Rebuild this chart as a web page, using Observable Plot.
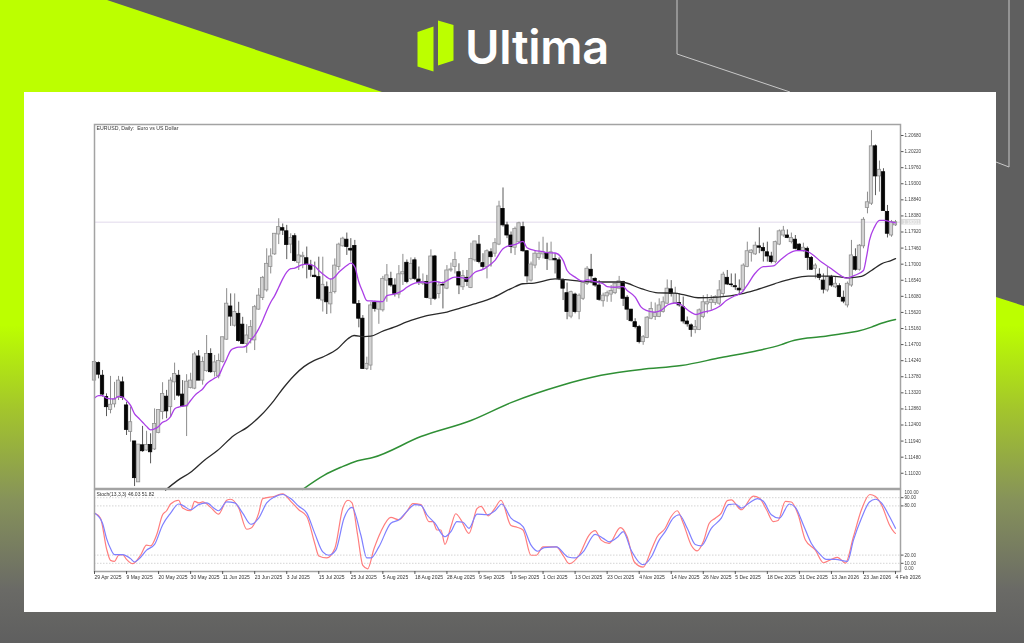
<!DOCTYPE html>
<html>
<head>
<meta charset="utf-8">
<script src="https://cdn.jsdelivr.net/npm/d3@7"></script>
<script src="https://cdn.jsdelivr.net/npm/@observablehq/plot@0.6"></script>
<style>
html,body{margin:0;padding:0;width:1024px;height:643px;overflow:hidden;background:#5f5f5f}
#stage{position:relative;width:1024px;height:643px;overflow:hidden;background:#5f5f5f}
.lay{position:absolute}
#fade{left:0;top:0;width:1024px;height:643px;background:linear-gradient(180deg,#bcff00 0,#bcff00 325px,#a3c52c 410px,#86925a 500px,#6a6a66 590px,#5f5f5f 643px);clip-path:polygon(0 0,107px 0,382px 92px,996px 297px,1024px 306px,1024px 643px,0 643px)}
#panel{left:24px;top:92px;width:972px;height:520px;background:#fff}
#brand{left:465px;top:17px;font:600 47px/60px Inter,"Open Sans",sans-serif;color:#fff;letter-spacing:-.3px}
#price,#osc{left:24px;filter:blur(.3px)}#price{top:92px}#osc{top:488px}
svg{overflow:visible;display:block}
</style>
</head>
<body>
<div id="stage">
<div class="lay" id="fade"></div>
<svg class="lay" style="left:0;top:0" width="1024" height="643">
<polyline points="677,0 677,54 790,92" fill="none" stroke="#c8c8c8" stroke-width="1"/>
<polyline points="1009,0 1009,167 996,162" fill="none" stroke="#c8c8c8" stroke-width="1"/>
<polygon points="417.5,32 433.5,26.5 433.5,71.5 417.5,66.5" fill="#bcff00"/>
<polygon points="438,20.5 453.5,25 453.5,60.5 438,65.5" fill="#bcff00"/>
</svg>
<div class="lay" id="brand">Ultima</div>
<div class="lay" id="panel"></div>
<div class="lay" id="price"></div>
<div class="lay" id="osc"></div>
</div>
<script>
// Daily EURUSD candles, pips above 1.1000, one entry per bar
const open=[367,417,381,320,283,299,318,362,296,220,193,76,182,167,183,170,217,277,321,291,362,381,327,293,346,344,436,367,394,443,392,379,420,484,579,524,558,527,472,486,482,570,603,625,692,728,785,803,794,756,780,704,720,717,696,667,663,596,634,585,620,692,751,770,744,752,586,544,400,410,589,570,568,653,658,639,613,671,704,658,711,656,644,649,601,722,615,641,630,682,692,677,634,661,632,711,756,703,692,734,730,756,858,811,782,747,763,806,737,653,696,718,728,730,711,715,711,653,617,550,613,563,601,644,684,658,639,594,608,613,617,630,649,604,570,534,520,477,489,544,549,549,563,587,628,589,589,577,536,525,512,512,549,585,589,589,587,615,661,642,637,630,625,692,732,728,751,746,734,722,706,756,782,782,763,770,756,737,744,718,687,670,653,625,663,634,637,604,582,639,720,684,751,861,873,1037,951,963,849,782,811];
const close=[420,384,327,291,298,313,367,318,226,248,88,184,165,183,162,243,283,329,279,367,386,324,293,364,367,442,367,420,443,391,419,423,491,587,550,563,480,472,496,520,577,610,661,701,722,787,806,796,755,775,709,725,724,699,684,663,601,641,591,618,696,756,773,749,739,587,544,400,415,582,572,591,658,668,639,615,671,677,649,701,658,648,649,603,722,601,639,639,682,685,712,639,666,649,715,765,706,692,737,720,760,865,811,782,749,801,817,737,665,699,730,730,734,715,734,711,658,630,563,620,563,610,646,687,665,639,598,610,617,623,644,651,601,570,537,520,477,491,547,572,560,582,591,630,615,615,582,536,528,512,520,568,591,591,598,606,625,670,642,640,634,625,696,737,739,753,747,737,722,706,763,794,796,775,775,744,739,747,718,684,696,661,627,663,639,644,606,593,644,725,684,753,827,877,1037,951,970,852,787,820,820];
const high=[422,420,396,329,379,362,379,377,305,291,193,184,236,222,215,286,283,361,339,375,417,396,367,384,388,448,453,434,496,458,439,443,491,630,615,615,591,548,527,539,582,630,665,744,744,787,830,815,811,787,787,766,734,749,711,706,720,720,649,658,715,760,777,789,773,768,596,553,434,591,594,591,665,699,677,658,696,728,712,718,718,692,672,668,741,725,649,649,696,703,734,701,682,682,760,765,782,730,741,744,773,880,918,820,792,806,820,820,739,706,739,763,777,760,763,730,718,658,646,623,617,615,649,693,728,661,653,617,623,639,644,665,651,610,570,544,525,496,550,591,589,601,606,655,653,634,615,606,549,529,539,572,610,613,610,610,653,677,682,672,672,655,701,763,741,763,804,760,763,734,766,798,808,798,789,782,758,760,749,722,701,687,672,692,668,663,644,623,649,768,744,756,833,906,1082,1041,995,973,868,825,825];
const low=[360,372,320,264,272,289,310,310,210,191,64,76,162,165,129,167,215,255,258,262,310,320,291,207,343,341,367,354,391,388,377,372,417,482,522,520,477,470,445,472,453,568,596,620,672,725,756,782,713,730,706,682,687,658,663,661,598,563,556,558,615,682,749,725,706,587,518,400,396,396,563,528,563,591,634,606,601,639,644,653,653,639,639,601,582,596,601,572,627,677,672,613,625,636,630,706,701,684,658,692,720,753,806,773,730,725,758,734,646,649,687,711,715,682,711,672,653,596,541,544,558,541,596,639,644,634,594,577,591,591,613,627,579,539,534,515,472,468,487,541,539,547,560,585,606,585,577,529,520,491,501,510,544,558,568,582,582,606,639,634,625,610,620,690,706,725,730,706,706,701,701,753,777,773,758,741,737,734,682,682,658,653,615,620,634,630,604,587,575,634,680,680,744,844,868,896,906,852,775,777,808];
// Moving averages: bar number and pips above 1.1000
const fastBars=[0,1,2,3,4,5,6,7,8,9,10,11,12,13,14,15,16,17,18,19,20,21,22,23,24,25,26,27,28,29,30,31,32,33,34,35,36,37,38,39,40,41,42,43,44,45,46,47,48,49,50,52,53,55,56,57,58,59,60,61,62,63,64,65,66,67,68,69,70,72,73,75,77,78,80,82,83,85,87,88,90,92,93,95,97,98,100,102,103,105,107,108,110,112,113,115,117,118,120,122,123,125,127,128,130,132,133,135,136.5,137.75,139.8,141.5,143.2,145,146.5,148.2,150.25,152,154,156,157.75,159.8,161.5,163.2,164.8,167,169.5,171.25,173.25,175.25,177.25,179,181.5,184,185.75,187.75,189.8,192,192.75,193.5,194.75,196,197.25,198.5,200];
const fastMA=[317,324,324,317,315,315,322,320,310,296,272,260,248,236,226,229,236,248,253,264,286,291,294,296,310,324,334,343,358,367,374,381,405,429,453,460,463,463,467,482,496,515,539,567,591,610,634,658,677,687,689,699,700,694,682,672,663,657,663,677,687,696,703,692,649,620,596,595,594,593,610,615,625,634,646,649,646,651,647,653,663,661,658,677,685,692,711,744,751,756,765,747,739,736,733,732,711,682,663,651,655,650,644,636,634,636,625,606,577,568,563,568,584,589,584,568,556,563,568,579,596,609,618,644,672,693,695,712,730,739,739,730,706,687,672,660,668,682,720,768,806,825,825,822,818];
const midBars=[17.75,20.7,24,27.3,30.7,34.8,38.2,41.5,44.8,47.3,49.8,52.3,54.8,57.3,60.7,63.2,64.8,67.3,69,71.5,74.8,79,83,88,91.5,95.7,99.8,104,107,109.8,115,117.5,121.5,126.5,131.5,136.5,140.7,144.8,147.3,150.7,155.7,161.5,164.8,169.8,174,178.2,184,188.2,191.5,194,196.5,199,200];
const midMA=[54,81,105,138,167,210,234,267,310,348,381,407,424,436,458,486,496,493,494,506,520,539,553,563,575,589,606,630,644,646,658,656,651,649,649,630,618,617,612,604,606,615,625,644,658,666,666,661,665,682,701,711,716];
const slowBars=[52,57.3,61.5,65.7,69.5,81.5,94,104,116.5,126.5,136.5,146.5,156.5,165.7,171.5,174,178,182,186.5,190.5,194,196.5,200];
const slowMA=[56,96,119,138,147,207,253,304,353,382,399,410,433,453,470,480,489,493,501,508,520,531,542];
// Stochastic oscillator
const mainBars=[0,2,3,4,5,7,9,10,11,13,15,17,19,21,22,24,26,28,30,31,33,35,37,39,41,43,45,47,49,51,53,55,57,58.5,60.25,62.3,64.3,66.5,68,69,71,74,76,78,80,81.5,83,85,87.5,89,90.5,92,93.5,95.5,98,100,101.7,104,107,109,110.7,112.3,115.3,118.2,120,122,125,127,128.5,130.7,132,134,137,139,141,142.5,144.5,146,148,150,151.5,154,156.5,158.3,160,161.5,163.5,165.5,167,169,171,173.5,175,177,179,181,182.7,185,188,189.5,191.5,193.5,195,196.5,198.5,200];
const mainK=[71.2,58.9,40.4,28,20.6,20.6,15.7,11.6,14.8,26,33,56.8,71.2,82.3,80.7,75.3,81.5,83.6,76.6,74.1,84.8,83.6,71.2,57.6,65,83.6,91,93.9,88.9,79.5,71.2,46.5,23.9,19.8,26,65,78.2,44.5,16.5,16.5,30,58.9,63,73.3,81.5,80.7,69.2,58.9,42.4,48.6,60.9,60.1,52.7,70,69.2,74.1,82.3,65,54.8,32.1,24.7,29.2,30,17.7,16.5,23.9,45.3,40.4,36.2,42.4,48.6,26,8.3,17.7,38.3,48.6,65,69.2,52.7,33,31.3,52.7,65,81.5,82.3,77.4,83.6,88.9,85.6,69.2,65,82.3,78.2,56.8,34.2,21.8,14.8,14.8,12.4,38.3,65,84.8,88.1,83.6,67.1,52.7];
const signalBars=[0,1.5,3,4,5,6,7,8,9.5,11.5,13,14,15.5,17,18,19,21,22,24,25,26,27,29,31,33,34,36,38,39,41,42,45,47,49,51,53,55,56,58,60,62,63.3,64.3,65.7,67,68.2,69.8,71.5,74,76,78,79.5,81.5,83.5,84.5,85.5,86.5,87.5,89,90.2,91.5,93.5,95.5,96.5,98.3,100,101.5,104,105.5,107,109,110.3,112,115.3,117,118.5,121,123.5,125,126.5,128.5,131.3,133,134.8,137,139,140.5,142.5,144,145.5,147,149,150.5,152,153.5,155,156.5,158,159,161.5,164.5,166,167.8,169.5,170.7,172.5,174,175.7,177.5,180,182,184,185.5,187.5,189.5,191.5,193.6,194.9,196.5,198.5,199.7,200];
const signalD=[71.2,65,28,13.6,12.4,19.8,20.6,14.8,9.5,19.8,32.1,31.3,44.5,69.2,74.1,82.3,86.9,77.4,74.1,85.6,83.6,84.8,78.2,70,86.9,88.1,77.4,51.5,52.7,71.2,88.9,91.8,94.7,85.6,75.3,67.1,34.2,19,16.5,28,77.4,86.9,83.6,44.5,7.4,3.3,28,48.6,65.9,63,73.3,82.7,81.5,60.9,60.9,50.6,50.6,33,54.8,70.4,63,46.5,76.6,79.5,67.9,77.4,86.9,56,53.9,50.6,19.8,19.8,30,30,19.8,9.5,19.8,44.5,49.8,38.3,34.2,53.5,42.4,11.6,5.4,26,42.4,52.7,67.1,74.1,58.9,32.1,25.1,36.2,58.9,65,71.2,86.4,87.3,75.3,91.8,89.7,75.3,60.9,62.2,85.6,84.8,69.2,38.3,26,10.7,14.8,17.3,10.3,42.4,75.3,93.9,91.8,81.5,56.8,47.8,46.5];
// Axis values and labels
const priceTicks=[1.2068,1.2022,1.1976,1.193,1.1884,1.1838,1.1792,1.1746,1.17,1.1654,1.1608,1.1562,1.1516,1.147,1.1424,1.1378,1.1332,1.1286,1.124,1.1194,1.1148,1.1102];
const dateLabels=["29 Apr 2025","9 May 2025","20 May 2025","30 May 2025","11 Jun 2025","23 Jun 2025","3 Jul 2025","15 Jul 2025","25 Jul 2025","5 Aug 2025","18 Aug 2025","28 Aug 2025","9 Sep 2025","19 Sep 2025","1 Oct 2025","13 Oct 2025","23 Oct 2025","4 Nov 2025","14 Nov 2025","26 Nov 2025","5 Dec 2025","18 Dec 2025","31 Dec 2025","13 Jan 2026","23 Jan 2026","4 Feb 2026"];
const oscTicks=[90,80,20,10];
const oscEdgeTicks=[100,0];
const lastPrice=1.1820;
const lastPriceLabel="1.18201";
const chartTitle="EURUSD, Daily:  Euro vs US Dollar";
const oscTitle="Stoch(13,3,3) 46.03 51.82";

const px=v=>1.1+v/10000;
const bars=open.map((o,i)=>({i,o:px(o),h:px(high[i]),l:px(low[i]),c:px(close[i]),up:close[i]>=o}));
const line=(xs,ys,conv)=>xs.map((x,k)=>({x,y:conv?conv(ys[k]):ys[k]}));
const FONT="Liberation Sans, Arial, sans-serif";
const dateTicks=dateLabels.map((_,k)=>k*8);
const xDomain=[0,201.25];
const frame="#a3a3a3";

const pricePlot=Plot.plot({
  width:972,height:398,marginLeft:70,marginRight:96,marginTop:32,marginBottom:2,
  style:{fontFamily:FONT,background:"transparent",overflow:"visible"},
  x:{domain:xDomain,axis:null},
  y:{domain:[1.10584,1.20995],axis:null},
  marks:[
    Plot.ruleY([lastPrice],{stroke:"#ebe6f2",strokeWidth:1.5}),
    Plot.rect([lastPrice],{x1:()=>201.5,x2:()=>206.4,y1:d=>d-0.0008,y2:d=>d+0.0008,fill:"#dcdcdc"}),
    Plot.text([lastPriceLabel],{x:()=>201.9,y:()=>lastPrice,text:d=>d,textAnchor:"start",fontSize:4.6,fill:"#fafafa"}),
    Plot.ruleX(bars,{x:"i",y1:"l",y2:"h",stroke:d=>d.up?"#8c8c8c":"#5a5a5a",strokeWidth:1}),
    Plot.rect(bars,{x1:d=>d.i-0.42,x2:d=>d.i+0.42,y1:"o",y2:"c",fill:d=>d.up?"#d2d2d2":"#050505",stroke:d=>d.up?"#909090":"#050505",strokeWidth:0.8}),
    Plot.line(line(slowBars,slowMA,px),{x:"x",y:"y",stroke:"#2f8f35",strokeWidth:1.5,curve:"monotone-x"}),
    Plot.line(line(midBars,midMA,px),{x:"x",y:"y",stroke:"#2a2a2a",strokeWidth:1.3,curve:"monotone-x"}),
    Plot.line(line(fastBars,fastMA,px),{x:"x",y:"y",stroke:"#ab3fe6",strokeWidth:1.3,curve:"monotone-x"}),
    Plot.frame({stroke:frame,strokeWidth:1.5}),
    Plot.axisY({anchor:"right",ticks:priceTicks,tickFormat:d3.format(".5f"),tickSize:2.5,tickPadding:1.5,fontSize:4.6,label:null,stroke:"#555",color:"#444"}),
    Plot.text([chartTitle],{frameAnchor:"top-left",dx:2,dy:2,text:d=>d,fontSize:5.2,fill:"#333"})
  ]
});
document.getElementById("price").appendChild(pricePlot);

const oscPlot=Plot.plot({
  width:972,height:100,marginLeft:70,marginRight:96,marginTop:1,marginBottom:17,
  style:{fontFamily:FONT,background:"transparent",overflow:"visible"},
  x:{domain:xDomain,axis:null},
  y:{domain:[0,100],axis:null},
  marks:[
    Plot.ruleY(oscTicks,{stroke:"#c9c9c9",strokeWidth:0.8,strokeDasharray:"1.5,1.5"}),
    Plot.line(line(signalBars,signalD),{x:"x",y:"y",stroke:"#ff7d7d",strokeWidth:1.2,curve:"monotone-x"}),
    Plot.line(line(mainBars,mainK),{x:"x",y:"y",stroke:"#7f80ff",strokeWidth:1.2,curve:"monotone-x"}),
    Plot.frame({stroke:frame,strokeWidth:1.5}),
    Plot.axisY({anchor:"right",ticks:oscTicks,tickFormat:d3.format(".2f"),tickSize:2.5,tickPadding:1.5,fontSize:4.6,label:null,stroke:"#555",color:"#444"}),
    Plot.text([oscEdgeTicks[0]],{x:()=>xDomain[1],y:d=>d,dx:4,dy:3.5,text:d=>d3.format(".2f")(d),textAnchor:"start",fontSize:4.6,fill:"#444"}),
    Plot.text([oscEdgeTicks[1]],{x:()=>xDomain[1],y:d=>d,dx:4,dy:-3,text:d=>d3.format(".2f")(d),textAnchor:"start",fontSize:4.6,fill:"#444"}),
    Plot.axisX({anchor:"bottom",ticks:dateTicks,tickFormat:(d,k)=>dateLabels[k],textAnchor:"start",tickSize:3,tickPadding:1,fontSize:5,label:null,stroke:"#555",color:"#333"}),
    Plot.text([oscTitle],{frameAnchor:"top-left",dx:2,dy:3,text:d=>d,fontSize:5,fill:"#333"})
  ]
});
document.getElementById("osc").appendChild(oscPlot);
</script>
</body>
</html>
